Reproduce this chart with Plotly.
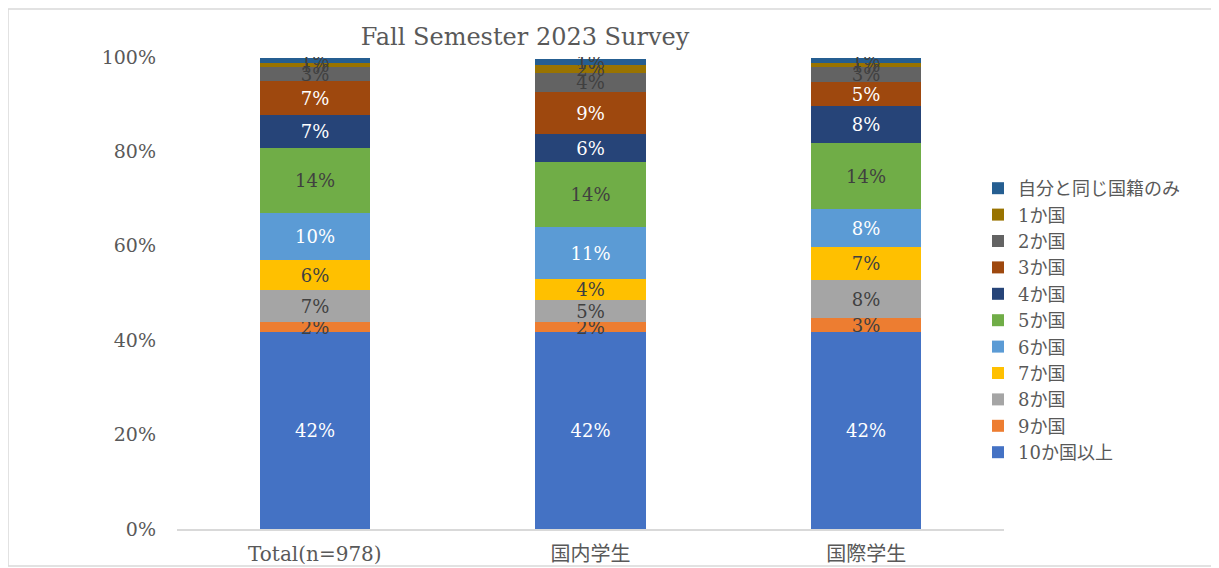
import plotly.graph_objects as go

categories = ["Total(n=978)", "国内学生", "国際学生"]
series_names = ["10か国以上", "9か国", "8か国", "7か国", "6か国", "5か国", "4か国", "3か国", "2か国", "1か国", "自分と同じ国籍のみ"]
v_10plus = [0.418, 0.418, 0.418]
v_9 = [0.021, 0.021, 0.030]
v_8 = [0.068, 0.047, 0.079]
v_7 = [0.062, 0.043, 0.070]
v_6 = [0.100, 0.110, 0.080]
v_5 = [0.138, 0.138, 0.140]
v_4 = [0.070, 0.060, 0.079]
v_3 = [0.072, 0.089, 0.051]
v_2 = [0.030, 0.040, 0.032]
v_1 = [0.009, 0.017, 0.008]
v_self = [0.010, 0.012, 0.011]
values = [v_10plus, v_9, v_8, v_7, v_6, v_5, v_4, v_3, v_2, v_1, v_self]

colors = ["#4472C4", "#ED7D31", "#A5A5A5", "#FFC000", "#5B9BD5", "#70AD47",
          "#264478", "#9E480E", "#636363", "#997300", "#255E91"]
text_colors = ["#FFFFFF", "#404040", "#404040", "#404040", "#FFFFFF", "#404040",
               "#FFFFFF", "#FFFFFF", "#404040", "#404040", "#404040"]

SERIF = "DejaVu Serif, Noto Sans CJK JP, serif"
GRAY = "#595959"

fig = go.Figure()
n = len(series_names)
for i, (name, vals) in enumerate(zip(series_names, values)):
    fig.add_trace(go.Bar(
        x=categories, y=vals, name=name,
        marker=dict(color=colors[i], line=dict(width=0)),
        width=0.4,
        texttemplate="%{y:.0%}",
        textposition="inside",
        insidetextanchor="middle",
        textangle=0,
        textfont=dict(color=text_colors[i], size=18, family=SERIF),
        legendrank=100 + (n - i),
        hoverinfo="skip",
    ))

# figure is placed at an 8px page offset; work in figure coordinates
W, H = 1211, 560
L, T = 169, 49
PR, PB = 996, 521  # plot area right / bottom edge
R, B = W - PR, H - PB
pw, ph = PR - L, PB - T

fig.update_layout(
    width=W, height=H,
    barmode="stack",
    bargap=0,
    paper_bgcolor="white",
    plot_bgcolor="white",
    margin=dict(l=L, r=R, t=T, b=B, autoexpand=False),
    font=dict(family=SERIF, color=GRAY, size=18),
    uniformtext=dict(mode="show", minsize=18),
    title=dict(
        text="Fall Semester 2023 Survey",
        font=dict(family=SERIF, size=24, color=GRAY),
        xref="paper", x=(517 - L) / pw, xanchor="center",
        yref="container", y=1 - 29 / H, yanchor="middle",
    ),
    legend=dict(
        x=(970 - L) / pw, y=(PB - 162) / ph,
        xanchor="left", yanchor="top",
        traceorder="normal",
        font=dict(family=SERIF, size=18, color=GRAY),
        bgcolor="rgba(0,0,0,0)",
        itemwidth=30,
    ),
    xaxis=dict(
        type="category",
        range=[-0.5, 2.5],
        showgrid=False,
        showline=True, linecolor="#D9D9D9", linewidth=1.5,
        ticks="",
        tickfont=dict(family=SERIF, size=20, color=GRAY),
        ticklabelstandoff=6,
        automargin=False,
        fixedrange=True,
    ),
    yaxis=dict(
        range=[0, 1.0],
        tickvals=[0, 0.2, 0.4, 0.6, 0.8, 1.0],
        tickformat=".0%",
        showgrid=False,
        showline=False,
        zeroline=False,
        ticks="",
        tickfont=dict(family=SERIF, size=19, color=GRAY),
        ticklabelstandoff=20,
        automargin=False,
        fixedrange=True,
    ),
    shapes=[dict(
        type="rect", xref="paper", yref="paper",
        x0=(0 - L) / pw, x1=(1216 - L) / pw,
        y0=-(558 - PB) / ph, y1=(PB - 1) / ph,
        line=dict(color="#D9D9D9", width=1.5),
        fillcolor="rgba(0,0,0,0)", layer="below",
    )],
)

fig.write_html("out.html")
